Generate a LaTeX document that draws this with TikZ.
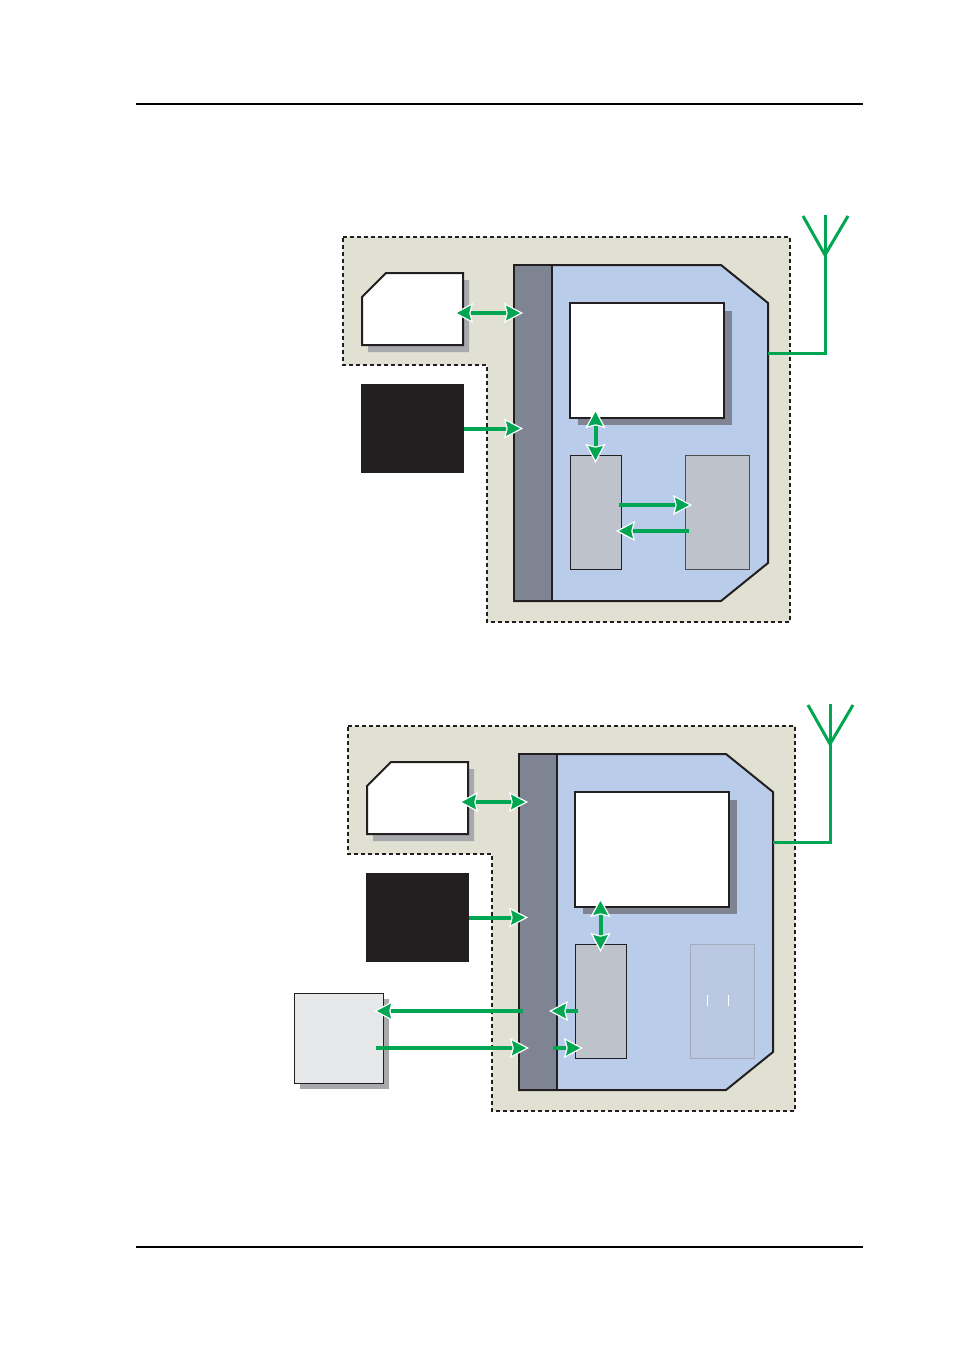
\documentclass[tikz,border=0pt]{standalone}
\usepackage{tikz}
\usetikzlibrary{arrows.meta,calc,positioning}
\definecolor{zonecolor}{RGB}{224,225,211}
\definecolor{bodycolor}{RGB}{185,205,234}
\definecolor{barcolor}{RGB}{126,132,145}
\definecolor{inkcolor}{RGB}{35,31,32}
\definecolor{chipcolor}{RGB}{190,195,203}
\definecolor{shcolor}{RGB}{167,169,172}
\definecolor{linkcolor}{RGB}{0,166,81}
\definecolor{extcolor}{RGB}{230,231,233}
\definecolor{fadecolor}{RGB}{186,200,226}
\definecolor{fadeline}{RGB}{163,171,186}
\tikzset{
  linkhead/.tip={Stealth[inset=2.5pt,length=19pt,width=20pt,color=white,fill=linkcolor,line width=1.2pt]},
  blk/.style={rectangle,inner sep=0pt,outer sep=0pt,anchor=north west},
  link/.style={linkcolor,line width=4pt,-linkhead},
  dlink/.style={linkcolor,line width=4pt,linkhead-linkhead},
  ant/.style={linkcolor,line width=3pt},
  zone/.style={dash pattern=on 4pt off 3pt,line width=1.5pt,inkcolor},
}

\begin{document}
\begin{tikzpicture}[x=1pt,y=-1pt]
  \useasboundingbox (0,0) rectangle (954,1350);
  % page rules
  \draw[line width=1.2pt] (136,104) -- (863,104);
  \draw[line width=1.2pt] (136,1247) -- (863,1247);

  \foreach \i/\sx/\sy in {a/0/0,b/5/489} {
  \begin{scope}[shift={(\sx,\sy)}]
    % secure zone
    \fill[zonecolor] (343,237) -- (790,237) -- (790,622) -- (487,622) -- (487,365) -- (343,365) -- cycle;
    \draw[zone] (343,237) -- (790,237) -- (790,622) -- (487,622) -- (487,365) -- (343,365) -- cycle;
    % handset body
    \node[blk,minimum width=254pt,minimum height=336pt] (dev\i) at (514,265) {};
    \filldraw[fill=bodycolor,draw=inkcolor,line width=2pt,line join=miter]
      (dev\i.north west) -- ($(dev\i.north east)+(-47,0)$) -- ($(dev\i.north east)+(0,38)$)
      -- ($(dev\i.south east)+(0,-38)$) -- ($(dev\i.south east)+(-47,0)$) -- (dev\i.south west) -- cycle;
    \node[blk,fill=barcolor,draw=inkcolor,line width=2pt,minimum width=38pt,minimum height=336pt] (bar\i) at (514,265) {};
    % card
    \fill[shcolor,shift={(6,7)}] (362,297) -- (386,273) -- (463,273) -- (463,345) -- (362,345) -- cycle;
    \node[blk,minimum width=101pt,minimum height=72pt] (sim\i) at (362,273) {};
    \filldraw[fill=white,draw=inkcolor,line width=2pt]
      ($(sim\i.north west)+(0,24)$) -- ($(sim\i.north west)+(24,0)$) -- (sim\i.north east)
      -- (sim\i.south east) -- (sim\i.south west) -- cycle;
    % keypad
    \node[blk,fill=inkcolor,minimum width=103pt,minimum height=89pt] (key\i) at (361,384) {};
    % display
    \fill[barcolor] (578,311) rectangle (732,425);
    \node[blk,fill=white,draw=inkcolor,line width=2pt,minimum width=154pt,minimum height=115pt] (disp\i) at (570,303) {};
    % processor
    \node[blk,fill=chipcolor,draw=inkcolor,line width=0.8pt,minimum width=51pt,minimum height=114pt] (cpu\i) at (570,455) {};
    % antenna
    \draw[ant] ($(dev\i.north east)+(0,88)$) -- ++(57,0) coordinate (mast\i) -- ++(0,-138);
    \draw[ant] ($(mast\i)+(-22,-137)$) -- ($(mast\i)+(0,-98)$) -- ($(mast\i)+(23,-137)$);
    % links
    \draw[dlink] ($(sim\i.east)+(-9,4)$) -- ($(sim\i.east -| bar\i.west)+(9,4)$);
    \draw[link] (key\i.east) -- ($(key\i.east -| bar\i.west)+(9,0)$);
    \draw[dlink] ($(cpu\i.north)+(0,-46)$) -- ($(cpu\i.north)+(0,8)$);
  \end{scope}
  }

  % upper handset: memory
  \node[blk,fill=chipcolor,draw=inkcolor!80,line width=0.6pt,minimum width=64pt,minimum height=114pt] (mema) at (685,455) {};
  \draw[link] ($(cpua.east)+(-2,-7)$) -- ($(cpua.east -| mema.west)+(7,-7)$);
  \draw[link] ($(mema.west)+(4,19)$) -- ($(mema.west -| cpua.east)+(-5,19)$);

  % lower handset: faded memory and external unit
  \begin{scope}[shift={(5,489)}]
    \node[blk,fill=fadecolor,draw=fadeline,line width=0.6pt,minimum width=64pt,minimum height=114pt] (memb) at (685,455) {};
    \draw[white,line width=0.4pt] (702,506) -- (702,517) (723,506) -- (723,517);
    \fill[shcolor] (295,510) rectangle (384,600);
    \node[blk,fill=extcolor,draw=inkcolor,line width=0.8pt,minimum width=89pt,minimum height=90pt] (ext) at (289,504) {};
    \draw[link] ($(barb.west |- ext.east)+(4,-27)$) -- ($(ext.east)+(-9,-27)$);
    \draw[link] ($(ext.east)+(-7,10)$) -- ($(ext.east -| barb.west)+(10,10)$);
    \draw[link] ($(cpub.west)+(3,10)$) -- ($(cpub.west -| barb.east)+(-8,10)$);
    \draw[link] ($(barb.east |- cpub.west)+(-4,47)$) -- ($(cpub.west)+(8,47)$);
  \end{scope}
\end{tikzpicture}
\end{document}
